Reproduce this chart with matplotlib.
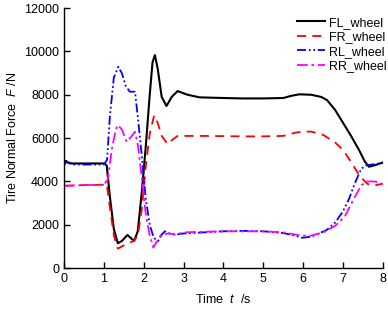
import matplotlib
matplotlib.use("Agg")
import matplotlib.pyplot as plt

plt.rcParams['font.family'] = ['Liberation Sans', 'DejaVu Sans']
plt.rcParams['mathtext.fontset'] = 'custom'
plt.rcParams['mathtext.it'] = 'Liberation Sans:italic'
plt.rcParams['mathtext.rm'] = 'Liberation Sans'

fl_t = [0, 0.05, 0.1, 0.2, 0.5, 1.0, 1.07, 1.15, 1.25, 1.35, 1.45, 1.59, 1.7, 1.76, 1.85, 1.95,
        2.05, 2.15, 2.22, 2.28, 2.35, 2.45, 2.57, 2.7, 2.85, 3.1, 3.4, 4.0, 4.5, 5.0, 5.5, 5.7,
        5.9, 6.2, 6.45, 6.6, 6.8, 7.0, 7.2, 7.4, 7.55, 7.65, 7.8, 8.0]
fl_v = [4850, 4950, 4880, 4830, 4830, 4830, 4750, 3300, 1800, 1150, 1250, 1530, 1350, 1260, 1700, 3500,
        5600, 8000, 9500, 9830, 9200, 7900, 7480, 7900, 8170, 8000, 7880, 7850, 7830, 7830, 7850, 7950,
        8020, 8000, 7900, 7750, 7300, 6700, 6100, 5450, 4900, 4680, 4750, 4880]

fr_t = [0, 0.5, 1.0, 1.07, 1.15, 1.25, 1.35, 1.45, 1.6, 1.75, 1.85, 1.95, 2.05, 2.15, 2.26, 2.35,
        2.45, 2.6, 2.7, 2.85, 3.5, 4.5, 5.0, 5.5, 5.8, 6.0, 6.2, 6.5, 6.8, 7.0, 7.2, 7.4, 7.6, 7.75, 8.0]
fr_v = [3800, 3830, 3850, 3900, 2800, 1500, 900, 1000, 1150, 1250, 1500, 2700, 4700, 6200, 7050, 6700,
        6100, 5720, 5900, 6100, 6100, 6080, 6080, 6100, 6250, 6300, 6300, 6150, 5800, 5450, 4900, 4300, 3900, 3800, 3900]

rl_t = [0, 0.05, 0.2, 0.5, 1.0, 1.08, 1.15, 1.25, 1.36, 1.45, 1.55, 1.65, 1.78, 1.85, 1.95, 2.05,
        2.15, 2.25, 2.36, 2.45, 2.53, 2.65, 2.8, 3.0, 3.5, 4.0, 4.5, 5.0, 5.5, 5.8, 5.96, 6.2, 6.58,
        6.8, 6.99, 7.15, 7.29, 7.46, 7.6, 7.8, 8.0]
rl_v = [4750, 4900, 4780, 4780, 4780, 5000, 7000, 8800, 9290, 9000, 8400, 8140, 8140, 7000, 5200, 3200,
        2000, 1400, 1250, 1550, 1700, 1600, 1550, 1600, 1650, 1700, 1720, 1700, 1620, 1500, 1400, 1450, 1750,
        2100, 2600, 3200, 3900, 4600, 4750, 4800, 4850]

rr_t = [0, 0.5, 1.0, 1.1, 1.2, 1.3, 1.35, 1.45, 1.57, 1.7, 1.78, 1.85, 1.95, 2.05, 2.15, 2.24, 2.32,
        2.42, 2.6, 2.8, 3.0, 3.5, 4.0, 4.5, 5.0, 5.5, 5.8, 6.0, 6.2, 6.5, 6.8, 7.04, 7.25, 7.46, 7.6, 7.8, 8.0]
rr_v = [3800, 3830, 3850, 4100, 5500, 6400, 6600, 6400, 5830, 6100, 6290, 5700, 4200, 2500, 1500, 950, 1200,
        1500, 1600, 1550, 1650, 1680, 1700, 1700, 1700, 1650, 1550, 1500, 1500, 1650, 1950, 2370, 3140, 3830, 4000, 4000, 3880]

labels = ['FL_wheel', 'FR_wheel', 'RL_wheel', 'RR_wheel']
x_ticks = [0, 1, 2, 3, 4, 5, 6, 7, 8]
y_ticks = [0, 2000, 4000, 6000, 8000, 10000, 12000]

fig = plt.figure(figsize=(3.88, 3.10), dpi=100)
ax = fig.add_axes([0.165, 0.135, 0.822, 0.839])

ax.plot(fl_t, fl_v, color='black', lw=1.5, ls='-', label=labels[0])
ax.plot(fr_t, fr_v, color='red', lw=1.3, ls=(0, (5, 3.5)), label=labels[1])
ax.plot(rl_t, rl_v, color='blue', lw=1.3, ls=(0, (5, 1.5, 1, 1.5, 1, 1.5)), label=labels[2])
ax.plot(rr_t, rr_v, color='magenta', lw=1.3, ls=(0, (6, 2, 1.5, 2)), label=labels[3])

ax.set_xlim(0, 8)
ax.set_ylim(0, 12000)
ax.set_xticks(x_ticks)
ax.set_yticks(y_ticks)
ax.tick_params(direction='in', length=4, labelsize=9, width=1)
ax.spines['top'].set_visible(False)
ax.spines['right'].set_visible(False)
ax.spines['left'].set_linewidth(1)
ax.spines['bottom'].set_linewidth(1)

ax.set_xlabel('Time  $t$  /s', fontsize=9, labelpad=6)
ax.set_ylabel('Tire Normal Force  $F$ /N', fontsize=9, labelpad=4)

ax.legend(loc='upper right', bbox_to_anchor=(1.04, 1.0), frameon=False, fontsize=9,
          handlelength=2.2, handletextpad=0.35, labelspacing=0.2, borderpad=0.2)

fig.savefig('out.png', dpi=100)
